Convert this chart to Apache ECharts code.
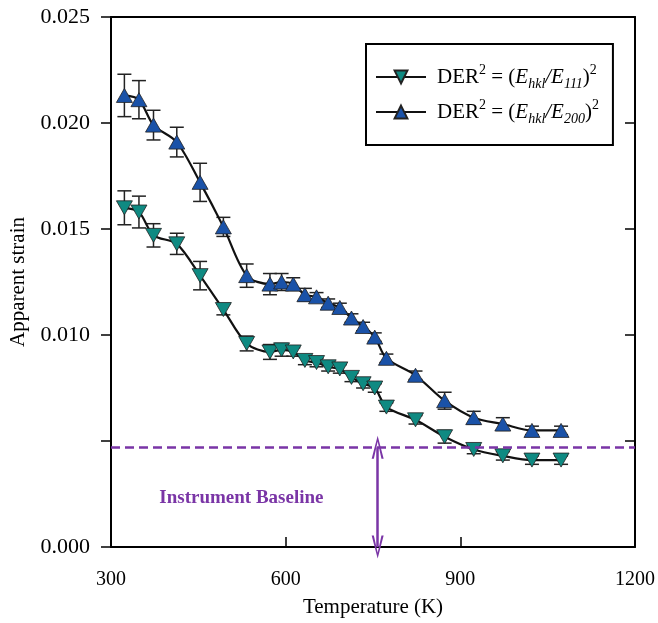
<!DOCTYPE html>
<html><head><meta charset="utf-8">
<script src="https://cdn.jsdelivr.net/npm/echarts@6/dist/echarts.min.js"></script>
<style>html,body{margin:0;padding:0;background:#fff}#c{width:658px;height:623px}</style>
</head><body><div id="c"></div>
<script>
var temps = [323,348,373,413,453,493,533,573,593,613,633,653,673,693,713,733,753,773,823,873,923,973,1023,1073];
var der111 = [0.0160,0.0158,0.0147,0.0143,0.0128,0.0112,0.0096,0.0092,0.0093,0.0092,0.0088,0.0087,0.0085,0.0084,0.0080,0.0077,0.0075,0.0066,0.0060,0.0052,0.0046,0.0043,0.0041,0.0041];
var err111 = [0.0008,0.00075,0.00055,0.0005,0.00067,0.00025,0.00035,0.00035,0.0003,0.0002,0.0002,0.0002,0.0002,0.0002,0.0002,0.0002,0.0002,0.0002,0.0002,0.0003,0.0002,0.0002,0.0002,0.0002];
var der200 = [0.0213,0.0211,0.0199,0.0191,0.0172,0.0151,0.0128,0.0124,0.0125,0.0124,0.0119,0.0118,0.0115,0.0113,0.0108,0.0104,0.0099,0.0089,0.0081,0.0069,0.0061,0.0058,0.0055,0.0055];
var err200 = [0.001,0.0009,0.0007,0.0007,0.0009,0.00045,0.00055,0.0005,0.0004,0.0003,0.0003,0.0002,0.0002,0.0002,0.0002,0.0002,0.0002,0.0002,0.0002,0.0004,0.0003,0.0003,0.0002,0.0002];
var xTicks = [300,600,900,1200];
var yTickLabels = ['0.000','','0.010','0.015','0.020','0.025'];
var baseline = 0.0047;
var arrowT = 758;
var baselineLabel = 'Instrument Baseline';
var baselineLabelPos = [524, 0.0023];

var serif = 'Liberation Serif';
var purple = '#7a35a6';
function pairs(xs, ys){ return xs.map(function(x,i){return [x, ys[i]];}); }
function errData(xs, ys, es){ return xs.map(function(x,i){return [x, ys[i], es[i]];}); }
function errRender(params, api){
  var x = api.value(0), y = api.value(1), e = api.value(2);
  var hi = api.coord([x, y+e]), lo = api.coord([x, y-e]);
  var w = 7;
  var st = {stroke:'#222', lineWidth:1.5};
  return {type:'group', children:[
    {type:'line', shape:{x1:hi[0],y1:hi[1],x2:lo[0],y2:lo[1]}, style:st},
    {type:'line', shape:{x1:hi[0]-w,y1:hi[1],x2:hi[0]+w,y2:hi[1]}, style:st},
    {type:'line', shape:{x1:lo[0]-w,y1:lo[1],x2:lo[0]+w,y2:lo[1]}, style:st}
  ]};
}
var arrowPath = 'path://M6,0 L12,24 L9.8,24 L6,6 L2.2,24 L0,24 Z';
var legendText = {
  'E111': '{sp|}{n|DER}{sup|2}{n| = (}{i|E}{sub|hkl}{i|/E}{sub|111}{n|)}{sup|2}',
  'E200': '{sp|}{n|DER}{sup|2}{n| = (}{i|E}{sub|hkl}{i|/E}{sub|200}{n|)}{sup|2}'
};
var chart = echarts.init(document.getElementById('c'), null, {renderer:'canvas'});
chart.setOption({
  animation:false,
  backgroundColor:'#fff',
  grid:{left:111, right:17, top:17, bottom:61},
  legend:{
    left:366, top:44, orient:'vertical',
    borderColor:'#000', borderWidth:2, borderRadius:0,
    padding:[19,14,19,9], itemGap:7, itemWidth:50, itemHeight:16,
    data:['E111','E200'],
    formatter:function(n){return legendText[n];},
    textStyle:{fontFamily:serif, color:'#000', fontSize:21,
      rich:{
        sp:{width:6, lineHeight:28},
        n:{fontFamily:serif, fontSize:21, color:'#000', verticalAlign:'middle', lineHeight:28},
        i:{fontFamily:serif, fontSize:21, fontStyle:'italic', color:'#000', verticalAlign:'middle', lineHeight:28},
        sup:{fontFamily:serif, fontSize:14, color:'#000', verticalAlign:'top', lineHeight:28},
        sub:{fontFamily:serif, fontSize:14, fontStyle:'italic', color:'#000', verticalAlign:'bottom', lineHeight:28}
      }}
  },
  xAxis:[{
    type:'value', min:300, max:1200, interval:300,
    name:'Temperature (K)', nameLocation:'middle', nameGap:50,
    nameTextStyle:{fontFamily:serif, fontSize:21, color:'#000'},
    axisLine:{show:true, onZero:false, lineStyle:{color:'#000', width:2}},
    axisTick:{show:true, inside:true, length:10, lineStyle:{color:'#000', width:1.5}},
    axisLabel:{fontFamily:serif, fontSize:20, color:'#000', margin:23,
      formatter:function(v){return xTicks.indexOf(v)>=0 ? String(v) : '';}},
    splitLine:{show:false}
  },{
    type:'value', min:300, max:1200, position:'top',
    axisLine:{show:true, onZero:false, lineStyle:{color:'#000', width:2}},
    axisTick:{show:false}, axisLabel:{show:false}, splitLine:{show:false}
  }],
  yAxis:[{
    type:'value', min:0, max:0.025, interval:0.005,
    name:'Apparent strain', nameLocation:'middle', nameGap:82,
    nameTextStyle:{fontFamily:serif, fontSize:21, color:'#000'},
    axisLine:{show:true, onZero:false, lineStyle:{color:'#000', width:2}},
    axisTick:{show:true, inside:false, length:10, lineStyle:{color:'#000', width:1.5}},
    axisLabel:{fontFamily:serif, fontSize:22, color:'#000', margin:21,
      formatter:function(v){var k=Math.round(v/0.005);return yTickLabels[k]||'';}},
    splitLine:{show:false}
  },{
    type:'value', min:0, max:0.025, interval:0.005, position:'right',
    axisLine:{show:true, onZero:false, lineStyle:{color:'#000', width:2}},
    axisTick:{show:true, inside:true, length:10, lineStyle:{color:'#000', width:1.5}},
    axisLabel:{show:false}, splitLine:{show:false}
  }],
  series:[
    {type:'custom', name:'err111', renderItem:errRender, data:errData(temps, der111, err111), z:3, silent:true},
    {type:'custom', name:'err200', renderItem:errRender, data:errData(temps, der200, err200), z:3, silent:true},
    {type:'line', name:'E111', data:pairs(temps, der111), smooth:0.3,
      symbol:'triangle', symbolRotate:180, symbolSize:[16,14],
      lineStyle:{color:'#111', width:2.2},
      itemStyle:{color:'#0f8a82', borderColor:'#222', borderWidth:0.8}, z:4,
      markLine:{silent:true, symbol:'none', animation:false, label:{show:false},
        lineStyle:{color:purple, type:[9,5], width:2.5},
        data:[[{coord:[300, baseline]},{coord:[1200, baseline]}]]},
      markPoint:{silent:true, symbol:'circle', symbolSize:1, itemStyle:{color:'rgba(0,0,0,0)'},
        label:{show:true, position:'inside', formatter:baselineLabel, fontFamily:serif, fontWeight:'bold', fontSize:19, color:purple},
        data:[{coord:baselineLabelPos}]}
    },
    {type:'line', name:'E200', data:pairs(temps, der200), smooth:0.3,
      symbol:'triangle', symbolSize:[16,14],
      lineStyle:{color:'#111', width:2.2},
      itemStyle:{color:'#1a52a8', borderColor:'#222', borderWidth:0.8}, z:4,
      markLine:{silent:true, symbol:[arrowPath, arrowPath], symbolSize:[12,23], animation:false, label:{show:false},
        lineStyle:{color:purple, type:'solid', width:2.5},
        data:[[{coord:[arrowT, baseline]},{coord:[arrowT, 0]}]]}
    }
  ]
});
</script></body></html>
